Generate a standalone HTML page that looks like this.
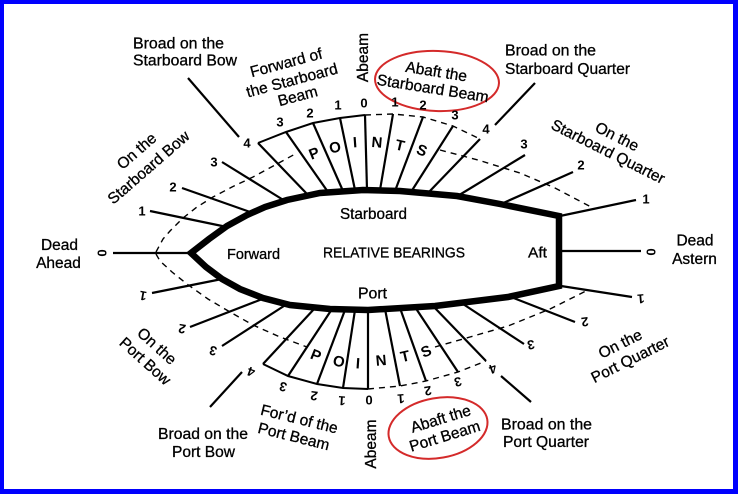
<!DOCTYPE html>
<html><head><meta charset="utf-8"><style>
html,body{margin:0;padding:0;background:#fff;}
svg{display:block;}
text{font-family:"Liberation Sans",Arial,sans-serif;fill:#000;}
.l{font-size:15.5px;stroke:#000;stroke-width:0.3;}
.n{font-size:13px;font-weight:bold;}
.p{font-size:15px;font-weight:bold;}
</style></head><body>
<svg width="738" height="494" viewBox="0 0 738 494" xmlns="http://www.w3.org/2000/svg">
<rect x="0" y="0" width="738" height="494" fill="#0000fe"/>
<rect x="4" y="4" width="729" height="485" fill="#fff"/>

<!-- dashed inner curves -->
<g fill="none" stroke="#000" stroke-width="1.4" stroke-dasharray="6 5">
<polyline points="156,252 163,239 170,231 177,224 183,218 197,207 213,197 232,187 253,177 275,165 297,153"/>
<polyline points="156,254 160,261 172,272 187,284 208,299 230,312 253,325 280,337 307,347"/>
<polyline points="440,150 478,160 520,173 555,188 593,208"/>
<polyline points="435,347 470,337 508,326 550,309 586,291"/>
<polyline points="365,115 393,114 423,117 453,126 480,139"/>
<polyline points="368,389 400,386 426,381 458,372 486,361"/>
</g>

<!-- solid band arcs -->
<g fill="none" stroke="#000" stroke-width="2">
<polyline points="258,143 286,132 313,123 340,118 365,115"/>
<polyline points="263,364 288,376 317,384 343,388 368,389"/>
</g>

<!-- radial lines -->
<g stroke="#000" stroke-width="2.2" fill="none">
<line x1="150" y1="211" x2="227" y2="227"/>
<line x1="182" y1="188" x2="253" y2="213"/>
<line x1="222" y1="162" x2="285" y2="201"/>
<line x1="258" y1="143" x2="308" y2="195"/>
<line x1="286" y1="132" x2="328" y2="192"/>
<line x1="313" y1="123" x2="343" y2="191"/>
<line x1="340" y1="118" x2="355" y2="190"/>
<line x1="365" y1="115" x2="367" y2="190"/>
<line x1="393" y1="114" x2="380" y2="190"/>
<line x1="423" y1="117" x2="395" y2="191"/>
<line x1="453" y1="126" x2="411" y2="192"/>
<line x1="480" y1="139" x2="428" y2="193"/>
<line x1="525" y1="155" x2="456" y2="197"/>
<line x1="573" y1="172" x2="501" y2="204"/>
<line x1="636" y1="200" x2="560" y2="216"/>
<line x1="188" y1="78" x2="239" y2="137"/>
<line x1="535" y1="83" x2="495" y2="125"/>
<line x1="113" y1="253" x2="191" y2="253"/>
<line x1="560" y1="251" x2="641" y2="251"/>
<line x1="152" y1="293" x2="222" y2="279"/>
<line x1="190" y1="327" x2="265" y2="298"/>
<line x1="222" y1="346" x2="287" y2="304"/>
<line x1="263" y1="364" x2="315" y2="308"/>
<line x1="288" y1="376" x2="332" y2="309"/>
<line x1="317" y1="384" x2="345" y2="310"/>
<line x1="343" y1="388" x2="355" y2="310"/>
<line x1="368" y1="389" x2="368" y2="310"/>
<line x1="400" y1="386" x2="385" y2="309"/>
<line x1="426" y1="381" x2="400" y2="308"/>
<line x1="458" y1="372" x2="415" y2="307"/>
<line x1="486" y1="361" x2="433" y2="306"/>
<line x1="524" y1="344" x2="463" y2="304"/>
<line x1="575" y1="322" x2="511" y2="297"/>
<line x1="632" y1="297" x2="561" y2="286"/>
<line x1="210" y1="407" x2="242" y2="372"/>
<line x1="501" y1="376" x2="531" y2="402"/>
</g>

<!-- hull -->
<path d="M559,216 L500,204 L457,196 L400,191 L363,190 L320,193 L287,200 L265,207 L247,215 L227,226 L209,239 L191,253 L206,267 L222,279 L240,289 L263,298 L290,305 L330,309 L368,310 L435,306 L508,297 L559,286 Z" fill="none" stroke="#000" stroke-width="6.5" stroke-linejoin="miter" stroke-miterlimit="10"/>

<!-- red ellipses -->
<ellipse cx="437" cy="81" rx="62" ry="30" transform="rotate(2 437 81)" fill="none" stroke="#d42a2a" stroke-width="2"/>
<ellipse cx="438" cy="428" rx="50" ry="30" transform="rotate(-10 438 428)" fill="none" stroke="#d42a2a" stroke-width="2"/>

<!-- upper numbers -->
<g class="n" text-anchor="middle">
<text class="n" x="142" y="215.7">1</text>
<text class="n" x="173" y="191.7">2</text>
<text class="n" x="214" y="166.7">3</text>
<text class="n" x="247" y="147.7">4</text>
<text class="n" x="280" y="126.7">3</text>
<text class="n" x="310" y="117.7">2</text>
<text class="n" x="338" y="109.7">1</text>
<text class="n" x="364" y="107.7">0</text>
<text class="n" x="395" y="106.7">1</text>
<text class="n" x="423" y="109.7">2</text>
<text class="n" x="455" y="119.7">3</text>
<text class="n" x="486" y="133.7">4</text>
<text class="n" x="524" y="148.7">3</text>
<text class="n" x="581" y="169.7">2</text>
<text class="n" x="646" y="203.7">1</text>
</g>
<g transform="translate(102,253) rotate(90)"><text class="n" text-anchor="middle" y="4.7">0</text></g>
<g transform="translate(651,252) rotate(90)"><text class="n" text-anchor="middle" y="4.7">0</text></g>

<!-- lower numbers (upside down) -->
<g transform="translate(143,296) rotate(190)"><text class="n" text-anchor="middle" y="4.7">1</text></g>
<g transform="translate(182,329) rotate(190)"><text class="n" text-anchor="middle" y="4.7">2</text></g>
<g transform="translate(213,351) rotate(195)"><text class="n" text-anchor="middle" y="4.7">3</text></g>
<g transform="translate(251,372) rotate(200)"><text class="n" text-anchor="middle" y="4.7">4</text></g>
<g transform="translate(283,387) rotate(195)"><text class="n" text-anchor="middle" y="4.7">3</text></g>
<g transform="translate(314,396) rotate(188)"><text class="n" text-anchor="middle" y="4.7">2</text></g>
<g transform="translate(342,401) rotate(184)"><text class="n" text-anchor="middle" y="4.7">1</text></g>
<g transform="translate(369,400) rotate(180)"><text class="n" text-anchor="middle" y="4.7">0</text></g>
<g transform="translate(401,399) rotate(176)"><text class="n" text-anchor="middle" y="4.7">1</text></g>
<g transform="translate(428,391) rotate(170)"><text class="n" text-anchor="middle" y="4.7">2</text></g>
<g transform="translate(458,382) rotate(166)"><text class="n" text-anchor="middle" y="4.7">3</text></g>
<g transform="translate(493,369) rotate(160)"><text class="n" text-anchor="middle" y="4.7">4</text></g>
<g transform="translate(531,345) rotate(170)"><text class="n" text-anchor="middle" y="4.7">3</text></g>
<g transform="translate(585,322) rotate(172)"><text class="n" text-anchor="middle" y="4.7">2</text></g>
<g transform="translate(641,299) rotate(175)"><text class="n" text-anchor="middle" y="4.7">1</text></g>

<!-- POINTS letters -->
<g transform="translate(314,153) rotate(-22)"><text class="p" text-anchor="middle" y="5.4">P</text></g>
<g transform="translate(335,147) rotate(-12)"><text class="p" text-anchor="middle" y="5.4">O</text></g>
<g transform="translate(355,142) rotate(-4)"><text class="p" text-anchor="middle" y="5.4">I</text></g>
<g transform="translate(377,142) rotate(5)"><text class="p" text-anchor="middle" y="5.4">N</text></g>
<g transform="translate(400,145) rotate(13)"><text class="p" text-anchor="middle" y="5.4">T</text></g>
<g transform="translate(422,150) rotate(22)"><text class="p" text-anchor="middle" y="5.4">S</text></g>

<g transform="translate(316,355) rotate(22)"><text class="p" text-anchor="middle" y="5.4">P</text></g>
<g transform="translate(339,361) rotate(12)"><text class="p" text-anchor="middle" y="5.4">O</text></g>
<g transform="translate(358,363) rotate(4)"><text class="p" text-anchor="middle" y="5.4">I</text></g>
<g transform="translate(381,360) rotate(-5)"><text class="p" text-anchor="middle" y="5.4">N</text></g>
<g transform="translate(405,356) rotate(-13)"><text class="p" text-anchor="middle" y="5.4">T</text></g>
<g transform="translate(426,351) rotate(-22)"><text class="p" text-anchor="middle" y="5.4">S</text></g>

<!-- center labels -->
<text class="l" x="340" y="219" textLength="67" lengthAdjust="spacingAndGlyphs">Starboard</text>
<text class="l" x="227" y="259" style="font-size:14.5px" textLength="53" lengthAdjust="spacingAndGlyphs">Forward</text>
<text class="l" x="323" y="257.7" style="font-size:14.5px" textLength="142" lengthAdjust="spacingAndGlyphs">RELATIVE BEARINGS</text>
<text class="l" x="528" y="257.5" style="font-size:14.5px" textLength="19" lengthAdjust="spacingAndGlyphs">Aft</text>
<text class="l" x="358" y="298.3" textLength="29" lengthAdjust="spacingAndGlyphs">Port</text>

<!-- horizontal outer labels -->
<text class="l" x="133" y="48.3" textLength="91" lengthAdjust="spacingAndGlyphs">Broad on the</text>
<text class="l" x="133" y="65.5" textLength="104" lengthAdjust="spacingAndGlyphs">Starboard Bow</text>
<text class="l" x="505" y="55.5" textLength="91" lengthAdjust="spacingAndGlyphs">Broad on the</text>
<text class="l" x="505" y="74" textLength="125" lengthAdjust="spacingAndGlyphs">Starboard Quarter</text>
<text class="l" x="59.5" y="250" text-anchor="middle">Dead</text>
<text class="l" x="58.5" y="268" text-anchor="middle">Ahead</text>
<text class="l" x="695" y="245.5" text-anchor="middle">Dead</text>
<text class="l" x="694.5" y="264" text-anchor="middle">Astern</text>
<text class="l" x="158" y="439" textLength="90" lengthAdjust="spacingAndGlyphs">Broad on the</text>
<text class="l" x="172" y="457" textLength="63" lengthAdjust="spacingAndGlyphs">Port Bow</text>
<text class="l" x="501" y="429.5" textLength="91" lengthAdjust="spacingAndGlyphs">Broad on the</text>
<text class="l" x="503" y="447" textLength="86" lengthAdjust="spacingAndGlyphs">Port Quarter</text>

<!-- rotated labels -->
<g transform="translate(287.5,67.7) rotate(-15)"><text class="l" text-anchor="middle">Forward of</text></g>
<g transform="translate(293.3,85.3) rotate(-15)"><text class="l" text-anchor="middle">the Starboard</text></g>
<g transform="translate(299,101) rotate(-15)"><text class="l" text-anchor="middle">Beam</text></g>

<g transform="translate(368,57.5) rotate(-90)"><text class="l" text-anchor="middle">Abeam</text></g>
<g transform="translate(376,444) rotate(-90)"><text class="l" text-anchor="middle">Abeam</text></g>

<g transform="translate(435.5,76.6) rotate(9)"><text class="l" text-anchor="middle">Abaft the</text></g>
<g transform="translate(432,93.5) rotate(9)"><text class="l" text-anchor="middle">Starboard Beam</text></g>

<g transform="translate(442.2,423.8) rotate(-17)"><text class="l" text-anchor="middle">Abaft the</text></g>
<g transform="translate(446.2,441.1) rotate(-17)"><text class="l" text-anchor="middle">Port Beam</text></g>

<g transform="translate(614.8,141.2) rotate(26.6)"><text class="l" text-anchor="middle">On the</text></g>
<g transform="translate(605.8,156.2) rotate(26.6)"><text class="l" text-anchor="middle">Starboard Quarter</text></g>

<g transform="translate(140,155) rotate(-41)"><text class="l" text-anchor="middle">On the</text></g>
<g transform="translate(152,171.3) rotate(-41)"><text class="l" text-anchor="middle">Starboard Bow</text></g>

<g transform="translate(153.4,350) rotate(42)"><text class="l" text-anchor="middle">On the</text></g>
<g transform="translate(141.7,365) rotate(42)"><text class="l" text-anchor="middle">Port Bow</text></g>

<g transform="translate(298,424) rotate(14)"><text class="l" text-anchor="middle">For’d of the</text></g>
<g transform="translate(292.5,441.5) rotate(14)"><text class="l" text-anchor="middle">Port Beam</text></g>

<g transform="translate(622.5,348.5) rotate(-26.6)"><text class="l" text-anchor="middle">On the</text></g>
<g transform="translate(632.5,364.2) rotate(-26.6)"><text class="l" text-anchor="middle">Port Quarter</text></g>
</svg>
</body></html>
